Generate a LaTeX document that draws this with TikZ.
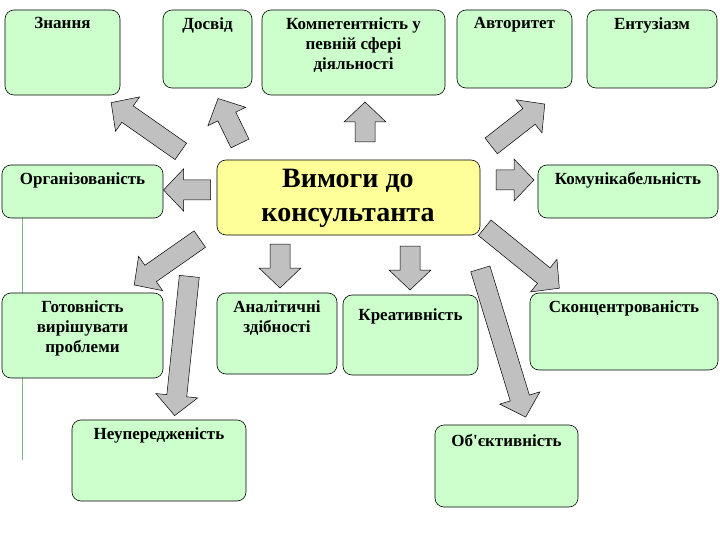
\documentclass[tikz,border=0pt]{standalone}
\usepackage{fontspec}
\setmainfont{Liberation Serif}
\definecolor{boxg}{RGB}{204,255,204}
\definecolor{boxy}{RGB}{255,255,153}
\definecolor{arr}{RGB}{192,192,192}
\tikzset{
 bx/.style={draw=black,fill=boxg,rounded corners=9pt,line width=0.6pt},
 lab/.style={font=\bfseries\fontsize{17}{20}\selectfont,align=center,anchor=north},
 bar/.style={draw=black,fill=arr,line width=0.5pt}
}
\newcommand{\blkarrow}[4]{%
 \begin{scope}[shift={(#1,#2)},rotate=#3]
 \draw[bar] ({-#4/2},-10) -- ({#4/2-20},-10) -- ({#4/2-20},-21) -- ({#4/2},0) -- ({#4/2-20},21) -- ({#4/2-20},10) -- ({-#4/2},10) -- cycle;
 \end{scope}}
\begin{document}
\begin{tikzpicture}[x=1pt,y=-1pt]
\useasboundingbox (0,0) rectangle (720,540);
\draw[green!45!black!50,line width=0.6pt] (22,218) -- (22,460);
\newcommand{\mybox}[7]{\draw[bx] (#2,#3) rectangle (#4,#5); \node[lab] (#1) at ({(#2+#4)/2},#3+#6) {#7};}
\mybox{zn}{5}{10}{120}{95}{4}{Знання}
\mybox{ds}{163}{10}{252}{88}{4}{Досвід}
\mybox{kp}{262}{10}{445}{95}{4}{Компетентність у\\певній сфері\\діяльності}
\mybox{av}{457}{10}{572}{88}{4}{Авторитет}
\mybox{en}{587}{10}{717}{88}{4}{Ентузіазм}
\mybox{org}{2}{165}{163}{218}{4}{Організованість}
\mybox{kom}{538}{165}{718}{218}{4}{Комунікабельність}
\mybox{got}{2}{293}{163}{378}{4}{Готовність\\вирішувати\\проблеми}
\mybox{an}{217}{293}{337}{374}{4}{Аналітичні\\здібності}
\mybox{kr}{343}{295}{478}{375}{10}{Креативність}
\mybox{sk}{530}{293}{718}{370}{4}{Сконцентрованість}
\mybox{ne}{72}{420}{246}{501}{4}{Неупередженість}
\mybox{ob}{435}{425}{578}{507}{6}{Об\textquotesingle єктивність}
\draw[draw=black,fill=boxy,rounded corners=9pt,line width=0.6pt] (217,160) rectangle (480,235);
\node[font=\bfseries\fontsize{28}{34}\selectfont,align=center] (c) at (348,198) {Вимоги до\\консультанта};
\blkarrow{146}{127}{145}{85}
\blkarrow{229}{121}{116}{50}
\blkarrow{365}{122}{90}{40}
\blkarrow{518}{125}{38}{68}
\blkarrow{187}{190}{180}{47}
\blkarrow{515}{180}{0}{38}
\blkarrow{167}{262}{215}{80}
\blkarrow{182}{346}{264}{140}
\blkarrow{280}{266}{270}{44}
\blkarrow{410}{268}{270}{44}
\blkarrow{503}{343}{287}{155}
\blkarrow{522}{258}{-39}{96}
\end{tikzpicture}
\end{document}
